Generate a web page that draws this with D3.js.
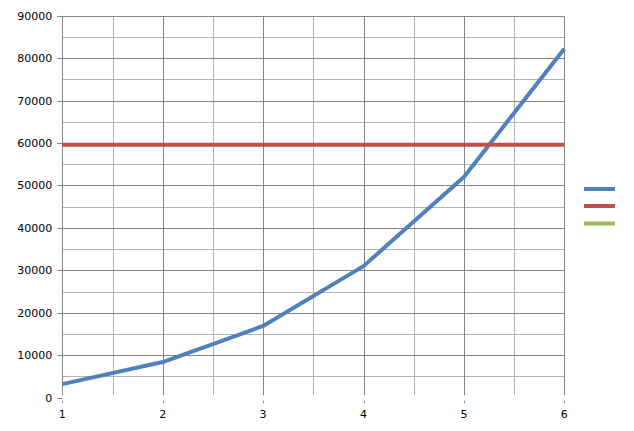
<!DOCTYPE html>
<html>
<head>
<meta charset="utf-8">
<script src="https://cdn.jsdelivr.net/npm/d3@7"></script>
<style>
  html, body { margin: 0; padding: 0; background: #fff; }
  svg { display: block; }
  text { font-family: "DejaVu Sans", sans-serif; font-size: 11px; fill: #000; }
</style>
</head>
<body>
<svg id="chart" width="634" height="431"></svg>
<script>
// ---- data ----
const xValues = [1, 2, 3, 4, 5, 6];
const seriesBlue = [3200, 8400, 16900, 31000, 52000, 82200];
const seriesRed = [59600, 59600, 59600, 59600, 59600, 59600];
const seriesGreen = [];
const yTicks = [0, 10000, 20000, 30000, 40000, 50000, 60000, 70000, 80000, 90000];
const yMinorTicks = [5000, 15000, 25000, 35000, 45000, 55000, 65000, 75000, 85000];
const xTicks = [1, 2, 3, 4, 5, 6];
const xMinorTicks = [1.5, 2.5, 3.5, 4.5, 5.5];
const seriesColors = ["#4F81BD", "#C0504D", "#9BBB59"];

// ---- layout ----
const svg = d3.select("#chart");
const x = d3.scaleLinear().domain([1, 6]).range([62.3, 564.3]);
const y = d3.scaleLinear().domain([0, 90000]).range([397.7, 15.7]);
const gridBottom = y(0) - 2.5;
const majorColor = "#868686";
const minorColor = "#b3b3b3";

const g = svg.append("g");

// minor horizontal grid
g.selectAll(".hminor").data(yMinorTicks).enter().append("line")
  .attr("x1", x(1)).attr("x2", x(6))
  .attr("y1", d => Math.round(y(d)) + 0.5).attr("y2", d => Math.round(y(d)) + 0.5)
  .attr("stroke", minorColor).attr("stroke-width", 1);
// minor vertical grid
g.selectAll(".vminor").data(xMinorTicks).enter().append("line")
  .attr("x1", d => Math.round(x(d)) + 0.5).attr("x2", d => Math.round(x(d)) + 0.5)
  .attr("y1", y(90000)).attr("y2", gridBottom)
  .attr("stroke", minorColor).attr("stroke-width", 1);
// major horizontal grid (excluding zero)
g.selectAll(".hmajor").data(yTicks.filter(d => d > 0)).enter().append("line")
  .attr("x1", x(1)).attr("x2", x(6))
  .attr("y1", d => Math.round(y(d)) + 0.5).attr("y2", d => Math.round(y(d)) + 0.5)
  .attr("stroke", majorColor).attr("stroke-width", 1);
// major vertical grid
g.selectAll(".vmajor").data(xTicks).enter().append("line")
  .attr("x1", d => Math.round(x(d)) + 0.5).attr("x2", d => Math.round(x(d)) + 0.5)
  .attr("y1", Math.round(y(90000)) + 0.5).attr("y2", gridBottom)
  .attr("stroke", majorColor).attr("stroke-width", 1);

// y axis ticks + labels
g.selectAll(".ytick").data(yTicks).enter().append("line")
  .attr("x1", x(1) - 5).attr("x2", x(1))
  .attr("y1", d => Math.round(y(d)) + 0.5).attr("y2", d => Math.round(y(d)) + 0.5)
  .attr("stroke", majorColor).attr("stroke-width", 1);
g.selectAll(".ylabel").data(yTicks).enter().append("text")
  .attr("x", x(1) - 10).attr("y", d => y(d)).attr("dy", "0.36em")
  .attr("text-anchor", "end").text(d => d);

// x axis ticks + labels
g.selectAll(".xtick").data(xTicks).enter().append("line")
  .attr("x1", d => Math.round(x(d)) + 0.5).attr("x2", d => Math.round(x(d)) + 0.5)
  .attr("y1", y(0) + 3).attr("y2", y(0) + 5.5)
  .attr("stroke", majorColor).attr("stroke-width", 1);
g.selectAll(".xlabel").data(xTicks).enter().append("text")
  .attr("x", d => x(d)).attr("y", y(0) + 16).attr("dy", "0.36em")
  .attr("text-anchor", "middle").text(d => d);

// series lines
const line = d3.line().x((d, i) => x(xValues[i])).y(d => y(d));
[seriesBlue, seriesRed, seriesGreen].forEach((s, i) => {
  if (!s.length) return;
  g.append("path").datum(s)
    .attr("d", line)
    .attr("fill", "none")
    .attr("stroke", seriesColors[i])
    .attr("stroke-width", 4)
    .attr("stroke-linejoin", "round")
    .attr("stroke-linecap", "butt");
});

// legend (symbols only)
const legendY = [189, 206, 223.5];
seriesColors.forEach((c, i) => {
  g.append("line")
    .attr("x1", 584).attr("x2", 615)
    .attr("y1", legendY[i]).attr("y2", legendY[i])
    .attr("stroke", c).attr("stroke-width", 4);
});
</script>
</body>
</html>
